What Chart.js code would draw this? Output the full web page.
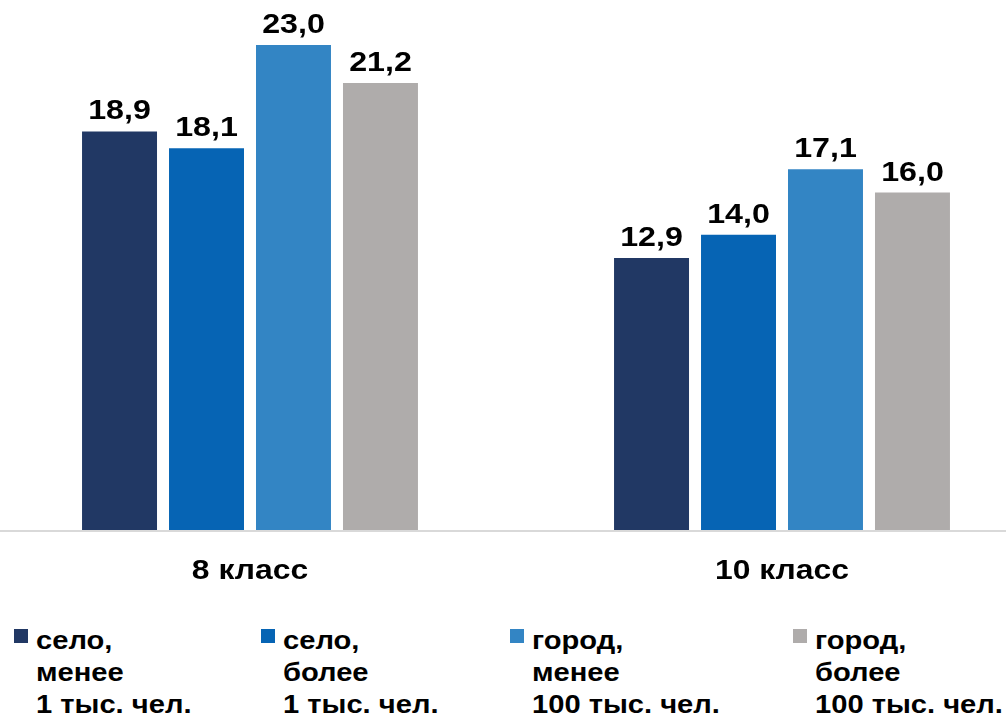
<!DOCTYPE html>
<html>
<head>
<meta charset="UTF-8">
<title>8 и 10 класс</title>
<script src="https://cdn.jsdelivr.net/npm/chart.js@4.4.0/dist/chart.umd.min.js"></script>
<style>
  body { margin: 0; width: 1006px; height: 715px; overflow: hidden; background: #fff; position: relative;
         font-family: "Liberation Sans", Arial, sans-serif; }
  #wrap { position: absolute; left: -16px; top: 0; width: 1064px; height: 600px; }
  .leg { position: absolute; top: 624px; font-weight: bold; font-size: 26px; line-height: 32px; color: #000; }
  .leg .sq { position: absolute; left: 0; top: 5px; width: 14px; height: 14px; }
  .leg .tx { position: absolute; left: 22px; top: 0; white-space: nowrap; transform: scaleX(1.12); transform-origin: left top; }
</style>
</head>
<body>
<div id="wrap"><canvas id="myChart"></canvas></div>
<div id="legend"></div>

<script type="text/javascript">
var categories = ['8 класс', '10 класс'];
var seriesNames = [
    ['село,', 'менее', '1 тыс. чел.'],
    ['село,', 'более', '1 тыс. чел.'],
    ['город,', 'менее', '100 тыс. чел.'],
    ['город,', 'более', '100 тыс. чел.']
];
var seriesValues = [
    [18.9, 12.9],
    [18.1, 14.0],
    [23.0, 17.1],
    [21.2, 16.0]
];
var colors = ['#213864', '#0664b4', '#3385c4', '#afacab'];
var legendX = [14, 261, 510, 793];

var font = '"Liberation Sans", Arial, sans-serif';

var labelPlugin = {
    id: 'labels',
    afterDatasetsDraw: function(chart) {
        var ctx = chart.ctx;
        var y0 = chart.scales.y.getPixelForValue(0);
        ctx.save();
        // axis line
        ctx.strokeStyle = '#d9d9d9';
        ctx.lineWidth = 2;
        ctx.beginPath();
        ctx.moveTo(0, y0 + 1);
        ctx.lineTo(chart.width, y0 + 1);
        ctx.stroke();

        ctx.fillStyle = '#000';
        ctx.textAlign = 'center';
        ctx.textBaseline = 'alphabetic';
        ctx.font = 'bold 28px ' + font;
        chart.data.datasets.forEach(function(ds, i) {
            chart.getDatasetMeta(i).data.forEach(function(bar, j) {
                var txt = ds.data[j].toFixed(1).replace('.', ',');
                ctx.save();
                ctx.translate(bar.x, bar.y - 12);
                ctx.scale(1.15, 1);
                ctx.fillText(txt, 0, 0);
                ctx.restore();
            });
        });

        ctx.font = 'bold 27px ' + font;
        chart.data.labels.forEach(function(lab, j) {
            var x = chart.scales.x.getPixelForValue(j);
            ctx.save();
            ctx.translate(x, y0 + 49);
            ctx.scale(1.18, 1);
            ctx.fillText(lab, 0, 0);
            ctx.restore();
        });
        ctx.restore();
    }
};

var datasets = seriesValues.map(function(vals, i) {
    return {
        label: seriesNames[i].join(' '),
        data: vals,
        backgroundColor: colors[i],
        borderWidth: 0,
        categoryPercentage: 0.654,
        barPercentage: 0.862
    };
});

var ctx = document.getElementById('myChart').getContext('2d');
var myChart = new Chart(ctx, {
    type: 'bar',
    data: { labels: categories, datasets: datasets },
    options: {
        responsive: true,
        maintainAspectRatio: false,
        animation: false,
        layout: { padding: { top: 0, bottom: 70, left: 0, right: 0 } },
        plugins: { legend: { display: false }, tooltip: { enabled: false } },
        scales: {
            x: { display: false },
            y: { display: false, min: 0, max: 25.13 }
        }
    },
    plugins: [labelPlugin]
});

// legend
var legend = document.getElementById('legend');
seriesNames.forEach(function(lines, i) {
    var d = document.createElement('div');
    d.className = 'leg';
    d.style.left = legendX[i] + 'px';
    var sq = document.createElement('div');
    sq.className = 'sq';
    sq.style.background = colors[i];
    var tx = document.createElement('div');
    tx.className = 'tx';
    tx.innerHTML = lines.join('<br>');
    d.appendChild(sq);
    d.appendChild(tx);
    legend.appendChild(d);
});
</script>
</body>
</html>
